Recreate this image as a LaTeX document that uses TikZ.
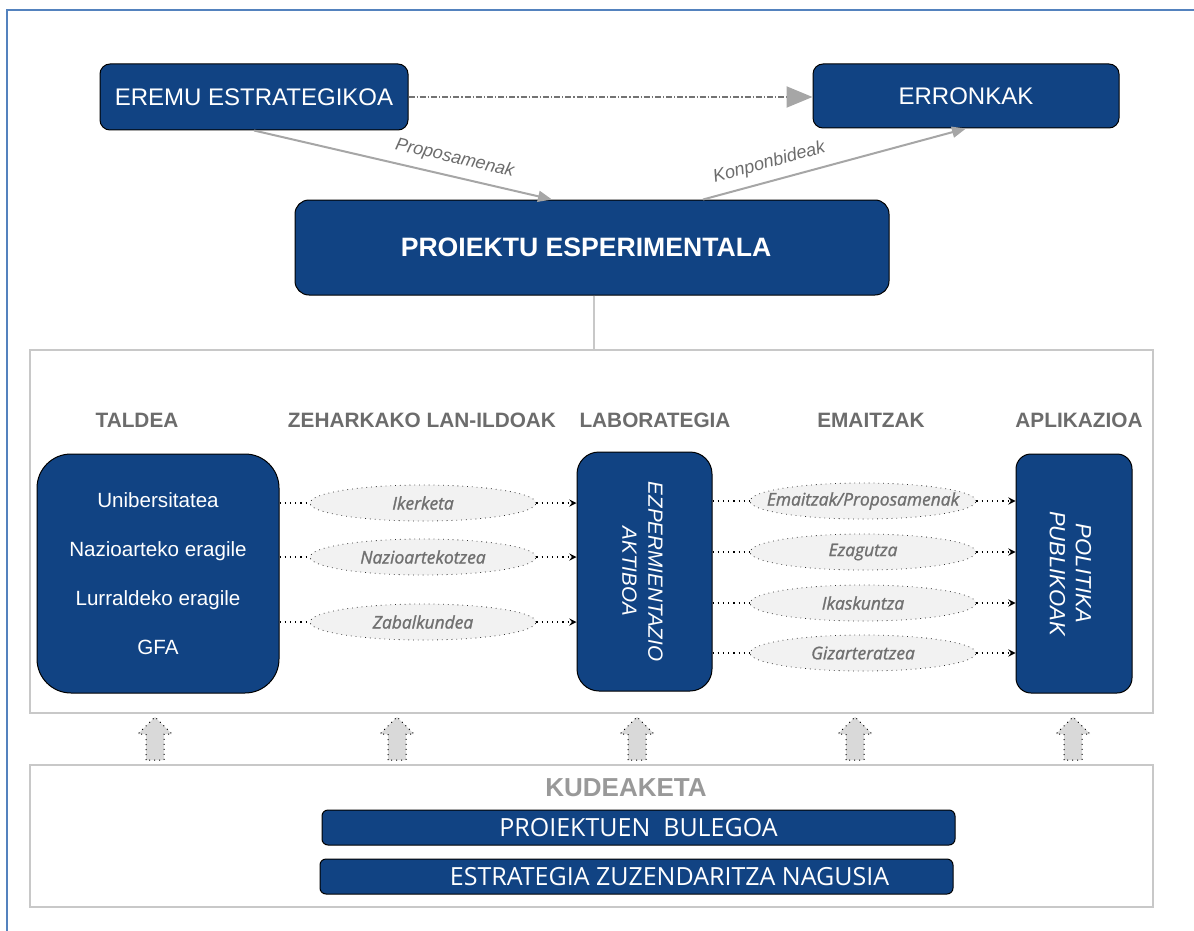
\documentclass[tikz,border=0pt]{standalone}
\usepackage{fontspec}
\setmainfont{Liberation Sans}
\newfontfamily\opensans{Open Sans}
\newfontfamily\ovalfont{Open Sans}[FakeBold=1.3]
\usepackage{xcolor}
\usepackage{tikz}
\usetikzlibrary{shapes,arrows.meta}
\definecolor{dblue}{RGB}{17,67,131}
\definecolor{hgray}{RGB}{108,108,108}
\definecolor{agray}{RGB}{166,166,166}
\definecolor{fgray}{RGB}{200,200,200}
\definecolor{ogray}{RGB}{242,242,242}
\definecolor{otext}{RGB}{112,112,112}
\definecolor{sblue}{RGB}{84,130,190}
\newcommand{\ovl}[1]{\makebox[0pt]{#1}}
\tikzset{box/.style={rectangle,draw=black,fill=dblue,text=white,rounded corners=5pt,inner sep=0pt,line width=0.5pt}}
\tikzset{colhead/.style={text=hgray,font=\fontsize{10.4}{12}\selectfont\bfseries}}
\tikzset{oval/.style={ellipse,draw=black!80,dotted,fill=ogray,text=otext,minimum width=113pt,minimum height=18pt,inner sep=0pt,font=\ovalfont\itshape\fontsize{8.7}{10}\selectfont}}
\tikzset{dotarr/.style={dotted,line width=0.6pt}}
\tikzset{grayarr/.style={draw=agray,line width=1pt,-{Triangle[length=7pt,width=5.5pt]}}}
\tikzset{uparr/.style={draw=black,dotted,fill=black!15,line width=0.5pt}}
\tikzset{frame/.style={draw=fgray,line width=0.8pt}}

\begin{document}
\begin{tikzpicture}[x=0.5pt,y=-0.5pt,>=stealth]
        \useasboundingbox (0,0) rectangle (1194,931);
        \draw [draw=sblue,line width=0.8pt] (7,931) -- (7,10) -- (1194,10);

        % top part
        \node[box,minimum width=154pt,minimum height=33pt,font=\fontsize{12}{14}\selectfont] (eremu) at (254,97) {EREMU ESTRATEGIKOA};
        \node[box,minimum width=153pt,minimum height=32pt,font=\fontsize{12}{14}\selectfont] (erronkak) at (966,96) {ERRONKAK};
        \node[box,rounded corners=7pt,minimum width=297pt,minimum height=47.5pt,font=\fontsize{13.3}{16}\selectfont\bfseries] (proiektu) at (592,247.5) {PROIEKTU ESPERIMENTALA\hspace*{6pt}};

        \draw [draw=black!55,line width=1pt,dash pattern=on 3pt off 1pt on 0.6pt off 1pt,-{Triangle[length=13pt,width=10.5pt,color=agray]}] (eremu.east) to [] (erronkak.west |- eremu.east);
        \draw [grayarr] (eremu.south) to []node[above=1pt,sloped,pos=0.66,text=hgray,font=\itshape\fontsize{9}{11}\selectfont]{Proposamenak} ([xshift=-20pt]proiektu.north);
        \draw [grayarr] ([xshift=55.5pt]proiektu.north) to []node[above=1pt,sloped,pos=0.27,text=hgray,font=\itshape\fontsize{9}{11}\selectfont]{Konponbideak} (erronkak.south);

        % middle part
        \coordinate (midtop) at (594,350);
        \draw [frame] (30,350) rectangle (1153,713);
        \draw [draw=fgray,line width=0.6pt] (proiektu.south -| midtop) -- (midtop);

        \node[colhead] (h1) at (137,420) {TALDEA};
        \node[colhead] (h2) at (422,420) {ZEHARKAKO LAN-ILDOAK};
        \node[colhead] (h3) at (655,420) {LABORATEGIA};
        \node[colhead] (h4) at (871,420) {EMAITZAK};
        \node[colhead] (h5) at (1079,420) {APLIKAZIOA};

        \node[box,rounded corners=17pt,minimum width=121pt,minimum height=119.5pt,align=center,font=\fontsize{10.3}{24.6}\selectfont] (taldea) at (158,573.5) {Unibersitatea\\Nazioarteko eragile\\Lurraldeko eragile\\GFA\hspace*{0pt}};
        \node[box,rounded corners=11pt,minimum width=67.5pt,minimum height=119.5pt,font=\itshape\fontsize{10.3}{13}\selectfont] (lab) at (644.5,571.5) {\rotatebox{-90}{\begin{tabular}{@{}c@{}}EZPERMIENTAZIO\\AKTIBOA\end{tabular}}\hspace*{4pt}};
        \node[box,rounded corners=7.5pt,minimum width=58pt,minimum height=119.5pt,font=\itshape\fontsize{11}{13}\selectfont] (politika) at (1074,573.5) {\rotatebox{-90}{\begin{tabular}{@{}c@{}}POLITIKA\\PUBLIKOAK\end{tabular}}\hspace*{6pt}};

        \node[oval] (iker) at (423,503) {\ovl{Ikerketa}};
        \node[oval] (nazio) at (423,557) {\ovl{Nazioartekotzea}};
        \node[oval] (zabal) at (423,622) {\ovl{Zabalkundea}};
        \node[oval] (emai) at (863,501) {\ovl{Emaitzak/Proposamenak}};
        \node[oval] (ezag) at (863,552) {\ovl{Ezagutza}};
        \node[oval] (ikas) at (863,603) {\ovl{Ikaskuntza}};
        \node[oval] (giza) at (863,653) {\ovl{Gizarteratzea}};

        \draw [dotarr] (taldea.east |- iker) -- (iker);
        \draw [dotarr] (taldea.east |- nazio) -- (nazio);
        \draw [dotarr] (taldea.east |- zabal) -- (zabal);
        \draw [dotarr,->] (iker) -- (lab.west |- iker);
        \draw [dotarr,->] (nazio) -- (lab.west |- nazio);
        \draw [dotarr,->] (zabal) -- (lab.west |- zabal);
        \draw [dotarr] (lab.east |- emai) -- (emai);
        \draw [dotarr] (lab.east |- ezag) -- (ezag);
        \draw [dotarr] (lab.east |- ikas) -- (ikas);
        \draw [dotarr] (lab.east |- giza) -- (giza);
        \draw [dotarr,->] (emai) -- (politika.west |- emai);
        \draw [dotarr,->] (ezag) -- (politika.west |- ezag);
        \draw [dotarr,->] (ikas) -- (politika.west |- ikas);
        \draw [dotarr,->] (giza) -- (politika.west |- giza);

        % arrows between the frames
        \draw [uparr] (146,760) -- ++(0,-26) -- ++(-8,0) -- ++(17,-17) -- ++(17,17) -- ++(-8,0) -- ++(0,26) -- cycle;
        \draw [uparr] (388,760) -- ++(0,-26) -- ++(-8,0) -- ++(17,-17) -- ++(17,17) -- ++(-8,0) -- ++(0,26) -- cycle;
        \draw [uparr] (628,760) -- ++(0,-26) -- ++(-8,0) -- ++(17,-17) -- ++(17,17) -- ++(-8,0) -- ++(0,26) -- cycle;
        \draw [uparr] (846,760) -- ++(0,-26) -- ++(-8,0) -- ++(17,-17) -- ++(17,17) -- ++(-8,0) -- ++(0,26) -- cycle;
        \draw [uparr] (1064,760) -- ++(0,-26) -- ++(-8,0) -- ++(17,-17) -- ++(17,17) -- ++(-8,0) -- ++(0,26) -- cycle;

        % bottom part
        \draw [frame] (30,765) rectangle (1153,907);
        \node[text=black!40,font=\fontsize{13}{15}\selectfont\bfseries] (kudeaketa) at (626,788) {KUDEAKETA};
        \node[box,rounded corners=3pt,minimum width=316.5pt,minimum height=17.5pt,font=\opensans\fontsize{12.5}{14}\selectfont] (bulegoa) at (638.5,827.5) {PROIEKTUEN~~BULEGOA};
        \node[box,rounded corners=3pt,minimum width=316.5pt,minimum height=17.5pt,font=\opensans\fontsize{12.5}{14}\selectfont] (estrategia) at (636.5,876.5) {\hspace*{33pt}ESTRATEGIA ZUZENDARITZA NAGUSIA};
    \end{tikzpicture}
\end{document}
